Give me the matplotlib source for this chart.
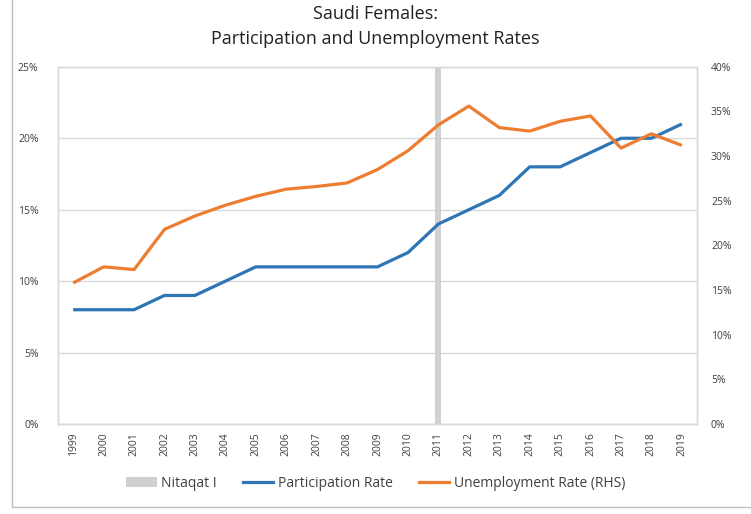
import matplotlib
matplotlib.use("Agg")
import matplotlib.pyplot as plt
from matplotlib.patches import Rectangle, Patch
from matplotlib.lines import Line2D
from matplotlib.ticker import FuncFormatter, MultipleLocator

years = [str(y) for y in range(1999, 2020)]
participation = [8, 8, 8, 9, 9, 10, 11, 11, 11, 11, 11, 12, 14, 15, 16, 18, 18, 19, 20, 20, 21]
unemployment = [15.8, 17.6, 17.3, 21.8, 23.3, 24.5, 25.5, 26.3, 26.6, 27.0, 28.5, 30.6,
                33.5, 35.6, 33.2, 32.8, 33.9, 34.5, 30.9, 32.5, 31.2]
nitaqat_year = "2011"
nitaqat_value = 25

plt.rcParams['font.family'] = ['Open Sans', 'DejaVu Sans']

fig = plt.figure(figsize=(7.51, 5.14), dpi=100)
ax = fig.add_axes([0.0772, 0.175, 0.851, 0.695])
ax2 = ax.twinx()

x = list(range(len(years)))
bar_vals = [nitaqat_value if y == nitaqat_year else 0 for y in years]
ax.bar(x, bar_vals, width=0.2, color='#D0D0D0', zorder=2)
ax.plot(x, participation, color='#2E75B6', lw=2.3, zorder=3, solid_capstyle='butt')
ax2.plot(x, unemployment, color='#ED7D31', lw=2.3, zorder=3, solid_capstyle='butt')

ax.set_xlim(-0.5, len(years) - 0.5)
ax.set_ylim(0, 25)
ax2.set_ylim(0, 40)
ax.yaxis.set_major_locator(MultipleLocator(5))
ax2.yaxis.set_major_locator(MultipleLocator(5))
pct = FuncFormatter(lambda v, p: f"{v:.0f}%")
ax.yaxis.set_major_formatter(pct)
ax2.yaxis.set_major_formatter(pct)
ax.set_xticks(x)
ax.set_xticklabels(years, rotation=90, fontsize=7.5, color='#404040')
ax.tick_params(axis='y', labelsize=7.5, colors='#404040', length=0, pad=14)
ax2.tick_params(axis='y', labelsize=7.5, colors='#404040', length=0, pad=10)
ax.tick_params(axis='x', length=0, pad=6)
ax.grid(axis='y', color='#D9D9D9', lw=1, zorder=0)
ax.set_axisbelow(True)
for a in (ax, ax2):
    for s in a.spines.values():
        s.set_color('#D9D9D9')
        s.set_linewidth(1)

fig.text(0.5, 0.972, "Saudi Females:", ha='center', va='center', fontsize=13, color='#222222')
fig.text(0.5, 0.924, "Participation and Unemployment Rates", ha='center', va='center', fontsize=13, color='#222222')

handles = [Patch(facecolor='#D0D0D0', edgecolor='none'),
           Line2D([0], [0], color='#2E75B6', lw=2.3),
           Line2D([0], [0], color='#ED7D31', lw=2.3)]
labels = ["Nitaqat I", "Participation Rate", "Unemployment Rate (RHS)"]
fig.legend(handles, labels, loc='center', bbox_to_anchor=(0.5, 0.06), ncol=3, frameon=False,
           fontsize=10, handlelength=2.2, columnspacing=1.9, handletextpad=0.3,
           labelcolor='#404040')

fig.patches.append(Rectangle((0.016, 0.014), 1.2, 1.2, transform=fig.transFigure,
                             fill=False, edgecolor='#BFBFBF', lw=1))

fig.savefig("out.png", dpi=100)
